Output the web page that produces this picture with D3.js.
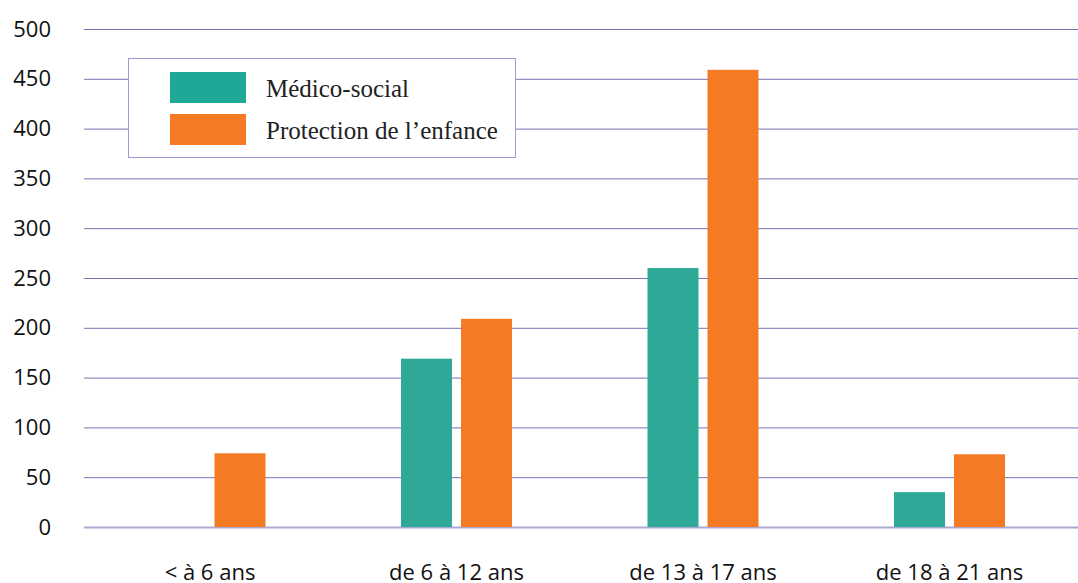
<!DOCTYPE html>
<html>
<head>
<meta charset="utf-8">
<script src="https://cdn.jsdelivr.net/npm/d3@7"></script>
<style>
  body { margin: 0; background: #fff; }
  svg { display: block; }
</style>
</head>
<body>
<script>
var categories = ['< à 6 ans', 'de 6 à 12 ans', 'de 13 à 17 ans', 'de 18 à 21 ans']
var seriesNames = ['Médico-social', 'Protection de l\u2019enfance']
var medicoSocial = [0, 169, 260, 35]
var protection = [74, 209, 459, 73]
var yTicks = [0, 50, 100, 150, 200, 250, 300, 350, 400, 450, 500]
var colors = ['#2fa997', '#f47a24']

var W = 1078, H = 583
var svg = d3.select('body').append('svg')
	.attr('width', W)
	.attr('height', H)

var y = d3.scaleLinear().domain([0, 500]).range([527, 29])
var x0 = d3.scaleBand().domain(categories).range([86.75, 1072.75])
var x1 = d3.scaleBand().domain(seriesNames).range([0, 111]).paddingInner(0.15)
var groupOffset = (x0.bandwidth() - 111) / 2

// grid lines via the axis
var grid = svg.append('g')
	.attr('transform', 'translate(84,0)')
	.call(d3.axisRight(y).tickValues(yTicks).tickSize(W - 84).tickFormat(''))
grid.select('.domain').remove()
grid.selectAll('.tick line')
	.attr('stroke', function(d){ return d === 0 ? '#a9a9d2' : '#7474b6' })
	.attr('stroke-width', function(d){ return d === 0 ? 2 : 1 })

// y labels
var yAxis = svg.append('g')
	.attr('transform', 'translate(51,0)')
	.call(d3.axisLeft(y).tickValues(yTicks).tickSize(0).tickPadding(0))
yAxis.select('.domain').remove()
yAxis.selectAll('text')
	.attr('font-family', '"Open Sans", sans-serif')
	.attr('font-size', 22)
	.attr('fill', '#111')

// bars
var rows = categories.map(function(c, i){
	return [
		{cat: c, key: seriesNames[0], value: medicoSocial[i], color: colors[0]},
		{cat: c, key: seriesNames[1], value: protection[i], color: colors[1]}
	]
})
var groups = svg.selectAll('.group').data(rows).enter().append('g')
	.attr('class', 'group')
	.attr('transform', function(d){ return 'translate(' + (x0(d[0].cat) + groupOffset) + ',0)' })
groups.selectAll('rect').data(function(d){ return d.filter(function(e){ return e.value > 0 }) })
	.enter().append('rect')
	.attr('x', function(d){ return x1(d.key) })
	.attr('y', function(d){ return y(d.value) })
	.attr('width', x1.bandwidth())
	.attr('height', function(d){ return y(0) - y(d.value) })
	.attr('fill', function(d){ return d.color })

// x labels
var xAxis = svg.append('g')
	.attr('transform', 'translate(0,561)')
	.call(d3.axisBottom(x0).tickSize(0).tickPadding(0))
xAxis.select('.domain').remove()
xAxis.selectAll('text')
	.attr('dy', '0.85em')
	.attr('y', 0)
	.attr('font-family', '"Open Sans", sans-serif')
	.attr('font-size', 22)
	.attr('fill', '#111')

// legend
var legend = svg.append('g')
legend.append('rect')
	.attr('x', 128.5).attr('y', 58.5)
	.attr('width', 387).attr('height', 99)
	.attr('fill', '#fff')
	.attr('stroke', '#9c9cd2')
	.attr('stroke-width', 1)
var items = legend.selectAll('.item').data(seriesNames).enter().append('g')
	.attr('transform', function(d, i){ return 'translate(170,' + (72 + i * 42) + ')' })
items.append('rect')
	.attr('width', 76).attr('height', 31)
	.attr('fill', function(d, i){ return i === 0 ? '#20a896' : colors[1] })
items.append('text')
	.attr('x', 96).attr('y', 25)
	.attr('font-family', '"Liberation Serif", serif')
	.attr('font-size', 25)
	.attr('fill', '#222')
	.text(function(d){ return d })
</script>
</body>
</html>
